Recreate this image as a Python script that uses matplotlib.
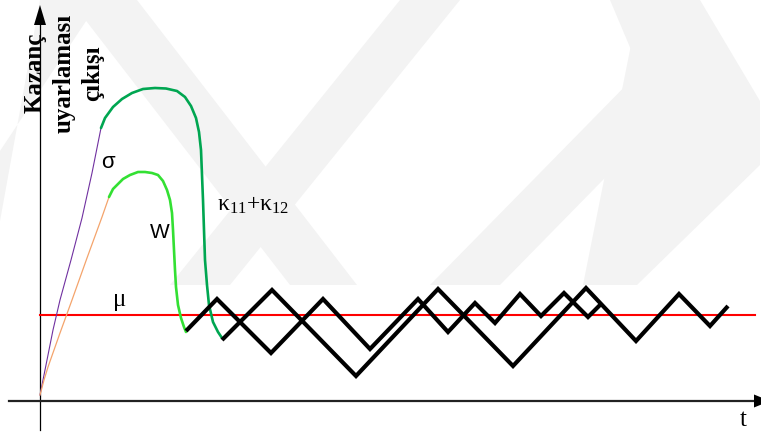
import matplotlib
matplotlib.use("Agg")
import matplotlib.pyplot as plt
from matplotlib.patches import Polygon

plt.rcParams["mathtext.fontset"] = "custom"
plt.rcParams["mathtext.rm"] = "Liberation Serif"
plt.rcParams["mathtext.it"] = "Liberation Serif"
plt.rcParams["mathtext.default"] = "rm"

# Time (t) and response (v) samples of each trace
sigma_t = [0, 3, 7, 13, 20, 31, 42, 52, 61]
sigma_v = [6, 21, 41, 71, 101, 141, 183, 228, 273]

w_rise_t = [0, 4, 8, 14, 20, 32, 47, 62, 69]
w_rise_v = [6, 21, 34, 51, 68, 101, 143, 184, 204]

kappa_t = [61, 65, 73, 82, 92, 103, 115, 126, 137, 145, 151, 156, 159, 161,
           162, 163, 164, 165, 167, 169, 173, 178, 182]
kappa_v = [273, 283, 294, 302, 308, 312, 313, 312.5, 310, 304, 295, 283, 269,
           251, 226, 201, 171, 141, 116, 96, 79, 69, 63]

w_t = [69, 73, 77, 83, 90, 98, 105, 112, 118, 123, 127, 130, 132, 133, 134,
       135, 136, 138, 141, 144, 146]
w_v = [204, 212, 216, 222, 226, 229, 229, 228, 226, 220, 211, 201, 188, 171,
       151, 131, 114, 96, 83, 74, 69]

zig_a_t = [146, 177, 231, 283, 330, 378, 408, 435, 455, 480, 501, 524, 548, 560]
zig_a_v = [70, 102, 48, 102, 52, 102, 69, 98, 78, 107, 85, 108, 84, 96]

zig_b_t = [182, 232, 316, 398, 473, 546, 596, 639, 670, 688]
zig_b_v = [61, 111, 25, 112, 35, 113, 60, 107, 75, 95]

mu_level = 86
mu_span = [0, 715]

fig = plt.figure(figsize=(7.61, 4.32), dpi=100)
ax = fig.add_axes([0, 0, 1, 1])
ax.set_xlim(-40, 721)
ax.set_ylim(-31, 401)
ax.axis("off")

# faint background stripes
stripe_color = "#f3f3f3"
bands = [
    [(130, 116), (190, 116), (420, 401), (360, 401)],
    [(250, 116), (317, 116), (97, 401), (30, 401)],
    [(543, 116), (597, 116), (720, 236), (720, 300), (660, 401), (600, 401),
     (600, 401)],
    [(390, 116), (460, 116), (660, 320), (620, 401), (570, 401), (600, 330)],
    [(-40, 180), (-40, 250), (60, 401), (0, 401)],
]
for b in bands:
    ax.add_patch(Polygon(b, closed=True, facecolor=stripe_color,
                         edgecolor="none", zorder=0))

# axes with arrows
ax.plot([0, 0], [-29, 378], color="black", lw=0.9, zorder=2)
ax.add_patch(Polygon([(-6, 376), (6, 376), (0, 396)], closed=True,
                     facecolor="black", edgecolor="none", zorder=2))
ax.plot([-31, 716], [0, 0], color="#222222", lw=1.6, zorder=2)
ax.add_patch(Polygon([(714, -6.5), (714, 6.5), (730, 0)], closed=True,
                     facecolor="black", edgecolor="none", zorder=2))

# mean level
ax.plot(mu_span, [mu_level, mu_level], color="#ff0000", lw=1.5, zorder=3)

# transient curves
ax.plot(sigma_t, sigma_v, color="#7030a0", lw=0.8, zorder=3)
ax.plot(w_rise_t, w_rise_v, color="#f4a46c", lw=0.9, zorder=3)
ax.plot(kappa_t, kappa_v, color="#00a651", lw=1.9, zorder=4,
        solid_capstyle="round")
ax.plot(w_t, w_v, color="#33e033", lw=1.9, zorder=4, solid_capstyle="round")

# oscillating responses
ax.plot(zig_a_t, zig_a_v, color="black", lw=3.0, zorder=5,
        solid_joinstyle="miter", solid_capstyle="butt")
ax.plot(zig_b_t, zig_b_v, color="black", lw=3.0, zorder=5,
        solid_joinstyle="miter", solid_capstyle="butt")

# labels
ax.text(24, 328, "Kazanç\nuyarlaması\nçıkışı", rotation=90, ha="center",
        va="center", family="Liberation Serif", weight="bold", fontsize=18,
        linespacing=1.3, multialignment="center")
ax.text(68, 238, "σ", ha="center", va="center", family="Liberation Sans",
        fontsize=16)
ax.text(120, 169, "W", ha="center", va="center", family="Liberation Sans",
        fontsize=15)
ax.text(177, 196, r"$\kappa_{11}$+$\kappa_{12}$", ha="left", va="center",
        family="Liberation Serif", fontsize=17)
ax.text(80, 101, "μ", ha="center", va="center", family="Liberation Serif",
        fontsize=18)
ax.text(703, -19, "t", ha="center", va="center", family="Liberation Serif",
        fontsize=18)

fig.savefig("out.png", dpi=100)
